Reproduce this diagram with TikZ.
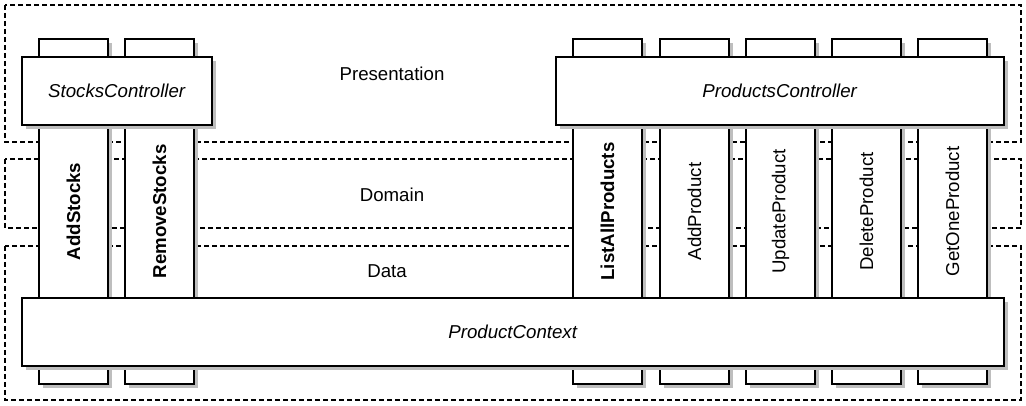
\documentclass[tikz,border=0pt]{standalone}
\usepackage{fontspec}
\setmainfont{Liberation Sans}
\usepackage{xcolor}
\usepackage{graphicx}
\usepackage{tikz}
\usetikzlibrary{shadows}
\definecolor{shadowgrey}{RGB}{190, 190, 190}

\tikzset{
  layer/.style={draw, dash pattern=on 3.5pt off 2.5pt, line width=1.4pt},
  layername/.style={font=\fontsize{14}{17}\selectfont},
  umlbox/.style={draw, fill=white, line width=1.1pt, inner sep=0pt,
    font=\fontsize{14}{17}\selectfont,
    drop shadow={shadow xshift=3pt, shadow yshift=-3pt, fill=shadowgrey, opacity=1}},
  method/.style={umlbox, minimum width=51.75pt, minimum height=258.75pt},
  ctrl/.style={umlbox, minimum height=51pt}
}

\begin{document}
\begin{tikzpicture}[x=0.75pt, y=-0.75pt]
\useasboundingbox (0,0) rectangle (1026,406);

% Layers
\draw[layer] (5,5) rectangle (1021,142);
\node[layername] (presentation) at (392,74) {Presentation};
\draw[layer] (5,159) rectangle (1021,228);
\node[layername] (domain) at (392,195) {Domain};
\draw[layer] (5,246) rectangle (1021,400);
\node[layername] (data) at (387,271) {Data};

% Stock methods
\node[method] (addstocks) at (73.5,211.5) {\rotatebox{90}{\textbf{AddStocks}}};
\node[method] (removestocks) at (159.5,211.5) {\rotatebox{90}{\textbf{RemoveStocks}}};

% Product methods
\foreach \x/\name/\txt in {607.5/listall/\textbf{ListAllProducts},
    694.5/addproduct/AddProduct, 780.5/updateproduct/UpdateProduct,
    866.5/deleteproduct/DeleteProduct, 952.5/getoneproduct/GetOneProduct}
  \node[method] (\name) at (\x,211.5) {\rotatebox{90}{\txt}};

% Controllers
\node[ctrl, minimum width=142.5pt] (stocksctrl) at (117,91) {\textit{StocksController}};
\node[ctrl, minimum width=336pt] (productsctrl) at (780,91) {\textit{ProductsController}};

% Context
\node[ctrl, minimum width=736.5pt] (context) at (513,332) {\textit{ProductContext}};
\end{tikzpicture}
\end{document}
